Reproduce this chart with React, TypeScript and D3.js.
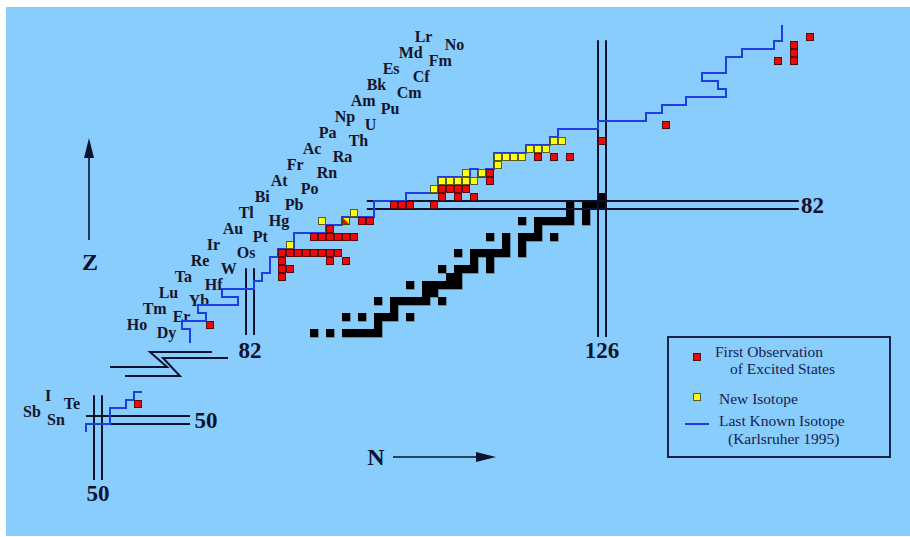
import React from 'react';
import * as d3 from 'd3';

const W = 910;
const H = 537;

// element symbols, main chart starts at Z = 66, inset at Z = 50
const mainSymbols = ['Dy','Ho','Er','Tm','Yb','Lu','Hf','Ta','W','Re','Os','Ir','Pt','Au','Hg','Tl','Pb','Bi','Po','At','Rn','Fr','Ra','Ac','Th','Pa','U','Np','Pu','Am','Cm','Bk','Cf','Es','Fm','Md','No','Lr'];
const insetSymbols = ['Sn','Sb','Te','I'];

// stable nuclides: [Z, neutron numbers]
const stableRows: [number, number[]][] = [
  [66, [90, 92, 94, 95, 96, 97, 98]],
  [67, [98]],
  [68, [94, 96, 98, 99, 100, 102]],
  [69, [100]],
  [70, [98, 100, 101, 102, 103, 104, 106]],
  [71, [104, 105]],
  [72, [102, 104, 105, 106, 107, 108]],
  [73, [107, 108]],
  [74, [106, 108, 109, 110, 112]],
  [75, [110, 112]],
  [76, [108, 110, 111, 112, 113, 114, 116]],
  [77, [114, 116]],
  [78, [112, 114, 116, 117, 118, 120]],
  [79, [118]],
  [80, [116, 118, 119, 120, 121, 122, 124]],
  [81, [122, 124]],
  [82, [122, 124, 125, 126]],
  [83, [126]],
];

// first observation of excited states
const excitedRows: [number, number[]][] = [
  [67, [77]],
  [73, [86]],
  [74, [86, 87]],
  [75, [86, 92, 94]],
  [76, [86, 87, 88, 89, 90, 91, 92, 93]],
  [78, [90, 91, 92, 93, 94, 95]],
  [79, [92]],
  [80, [96, 97]],
  [82, [100, 101, 102, 105]],
  [83, [106, 108, 110]],
  [84, [106, 107, 108, 109]],
  [85, [112]],
  [86, [112]],
  [88, [118, 120, 122]],
  [90, [126]],
  [92, [134]],
  [100, [148, 150]],
  [101, [150]],
  [102, [150]],
  [103, [152]],
];
const excitedInset: [number, number[]][] = [[52, [55]]];

// new isotopes
const newRows: [number, number[]][] = [
  [77, [87]],
  [80, [91]],
  [81, [95]],
  [84, [105]],
  [85, [106, 107, 108, 109, 110]],
  [86, [109, 111]],
  [87, [113]],
  [88, [113, 114, 115, 116]],
  [89, [117, 118, 119]],
  [90, [120, 121]],
];
// both (half red, half yellow): [Z, N]
const bothCells: [number, number][] = [[80, 94]];

// last known isotope (cell edges, [N, Z])
const lastKnownMain: [number, number][] = [
  [74.5, 64.75], [74.5, 66.5], [73.5, 66.5], [73.5, 67.5], [76.5, 67.5], [76.5, 68.5],
  [75.5, 68.5], [75.5, 69.5], [80.5, 69.5], [80.5, 70.5], [78.5, 70.5], [78.5, 71.5],
  [82.5, 71.5], [82.5, 72.5], [83.5, 72.5], [83.5, 73.5], [84.5, 73.5], [84.5, 75.5],
  [85.5, 75.5], [85.5, 76.5], [87.5, 76.5], [87.5, 78.5], [91.5, 78.5], [91.5, 79.5],
  [93.5, 79.5], [93.5, 80.5], [97.5, 80.5], [97.5, 82.5], [101.5, 82.5], [101.5, 83.5],
  [105.5, 83.5], [105.5, 85.5], [109.5, 85.5], [109.5, 86.5], [110.5, 86.5], [110.5, 85.5],
  [111.5, 85.5], [111.5, 86.5], [112.5, 86.5], [112.5, 88.5], [116.5, 88.5], [116.5, 89.5],
  [119.5, 89.5], [119.5, 90.5], [120.5, 90.5], [120.5, 91.5], [125.5, 91.5], [125.5, 92.5],
  [131.5, 92.5], [131.5, 93.5], [133.5, 93.5], [133.5, 94.5], [136.5, 94.5], [136.5, 95.5],
  [141.5, 95.5], [141.5, 96.5], [140.5, 96.5], [140.5, 97.5], [138.5, 97.5], [138.5, 98.5],
  [141.5, 98.5], [141.5, 100.5], [143.5, 100.5], [143.5, 101.5], [147.5, 101.5], [147.5, 102.5],
  [148.5, 102.5], [148.5, 104.5],
];
const lastKnownInset: [number, number][] = [
  [48.5, 48.5], [48.5, 49.5], [51.5, 49.5], [51.5, 51.5], [53.5, 51.5], [53.5, 52.5],
  [54.5, 52.5], [54.5, 53.5], [55.5, 53.5],
];

const BG = '#88cdfb';
const INK = '#0c1230';
const BLUE = '#1e3ee0';
const RED = '#ee0a0a';
const YEL = '#ffff10';

// main region scales (8px per nucleon)
const x = d3.scaleLinear().domain([82, 126]).range([250, 602]);
const y = d3.scaleLinear().domain([82, 66]).range([205, 333]);
// inset (Sn region)
const xi = d3.scaleLinear().domain([50, 55]).range([98, 138]);
const yi = d3.scaleLinear().domain([50, 53]).range([420, 396]);
// element label left edge along the diagonal
const labelX = d3.scaleLinear().domain([66, 103]).range([156.7, 452.7]);
const insetLabelX = d3.scaleLinear().domain([50, 53]).range([56, 80]);

const flat = (rows: [number, number[]][]) => rows.flatMap(([z, ns]) => ns.map((n) => [n, z]));

const Cell = ({ cx, cy, fill, stroke }: { cx: number; cy: number; fill: string; stroke: string }) => (
  <rect x={cx - 3.5} y={cy - 3.5} width={7} height={7} fill={fill} stroke={stroke} strokeWidth={1} />
);

export default function App() {
  const line = d3.line();
  const mainPath = line(lastKnownMain.map(([n, z]) => [x(n), y(z)]));
  const insetPath = line(lastKnownInset.map(([n, z]) => [xi(n), yi(z)]));
  const labelFont = { fontFamily: 'Liberation Serif, serif', fontWeight: 700 };

  return (
    <svg width={W} height={H} style={{ position: 'absolute', left: 0, top: 0, background: '#fff' }}>
      <rect x={6} y={7} width={904} height={529} fill={BG} />

      {/* element labels */}
      <g {...labelFont} fontSize={16} fill="#15152a">
        {mainSymbols.map((s, i) => {
          const z = 66 + i;
          return (
            <text key={s} x={labelX(z) - (z % 2 ? 38 : 0)} y={y(z) + 5}>{s}</text>
          );
        })}
        {insetSymbols.map((s, i) => {
          const z = 50 + i;
          return (
            <text key={s} x={insetLabelX(z) - (z % 2 ? 32 : 0)} y={yi(z) + 5} textAnchor="middle">{s}</text>
          );
        })}
      </g>

      {/* stable */}
      {flat(stableRows).map(([n, z]) => (
        <rect key={`s${n}-${z}`} x={x(n - 0.5)} y={y(z + 0.5)} width={8.3} height={8.3} fill="#000" />
      ))}

      {/* magic number lines */}
      <g stroke={INK} strokeWidth={2} fill="none">
        <line x1={x(81.5)} x2={x(81.5)} y1={y(74.1)} y2={y(65.75)} />
        <line x1={x(82.5)} x2={x(82.5)} y1={y(74.1)} y2={y(65.75)} />
        <line x1={x(125.5)} x2={x(125.5)} y1={y(102.6)} y2={y(65.5)} />
        <line x1={x(126.5)} x2={x(126.5)} y1={y(102.6)} y2={y(65.5)} />
        <line x1={x(96.6)} x2={x(150.6)} y1={y(82.5)} y2={y(82.5)} />
        <line x1={x(96.6)} x2={x(150.6)} y1={y(81.5)} y2={y(81.5)} />
        <line x1={xi(49.5)} x2={xi(49.5)} y1={yi(53.1)} y2={yi(42.5)} />
        <line x1={xi(50.5)} x2={xi(50.5)} y1={yi(53.1)} y2={yi(42.5)} />
        <line x1={xi(48.5)} x2={xi(61.5)} y1={yi(50.5)} y2={yi(50.5)} />
        <line x1={xi(48.5)} x2={xi(61.5)} y1={yi(49.5)} y2={yi(49.5)} />
        {/* axis break */}
        <polyline points="110,367 167,367 150,352 212,352" />
        <polyline points="125,376 180,376 163,358 228,358" />
      </g>

      {/* last known isotope */}
      <path d={mainPath ?? ''} fill="none" stroke={BLUE} strokeWidth={2} />
      <path d={insetPath ?? ''} fill="none" stroke={BLUE} strokeWidth={2} />

      {flat(excitedRows).map(([n, z]) => (
        <Cell key={`r${n}-${z}`} cx={x(n)} cy={y(z)} fill={RED} stroke="#5a0a0a" />
      ))}
      {flat(excitedInset).map(([n, z]) => (
        <Cell key={`ri${n}-${z}`} cx={xi(n)} cy={yi(z)} fill={RED} stroke="#5a0a0a" />
      ))}
      {flat(newRows).map(([n, z]) => (
        <Cell key={`y${n}-${z}`} cx={x(n)} cy={y(z)} fill={YEL} stroke="#5b5b1a" />
      ))}
      {bothCells.map(([z, n]) => {
        const cx = x(n), cy = y(z);
        return (
          <g key={`b${n}-${z}`}>
            <polygon points={`${cx - 3.5},${cy - 3.5} ${cx + 3.5},${cy - 3.5} ${cx + 3.5},${cy + 3.5}`} fill={YEL} />
            <polygon points={`${cx - 3.5},${cy - 3.5} ${cx - 3.5},${cy + 3.5} ${cx + 3.5},${cy + 3.5}`} fill={RED} />
            <rect x={cx - 3.5} y={cy - 3.5} width={7} height={7} fill="none" stroke="#5a3a0a" />
          </g>
        );
      })}

      {/* magic numbers */}
      <g {...labelFont} fontSize={23} fill={INK} textAnchor="middle">
        <text x={x(82)} y={y(62.9)}>82</text>
        <text x={x(126)} y={y(62.9)}>126</text>
        <text x={x(152.3)} y={y(82) + 8}>82</text>
        <text x={xi(50)} y={yi(39.9)}>50</text>
        <text x={xi(63.5)} y={yi(50) + 8}>50</text>
      </g>

      {/* axis arrows */}
      <g stroke={INK} strokeWidth={1.6}>
        <line x1={89} x2={89} y1={240} y2={152} />
        <line x1={393} x2={482} y1={457} y2={457} />
      </g>
      <polygon points="89,138 84,158 94,158" fill={INK} />
      <polygon points="496,457 476,452 476,462" fill={INK} />
      <g {...labelFont} fontSize={24} fill={INK} textAnchor="middle">
        <text x={90} y={270}>Z</text>
        <text x={376} y={465}>N</text>
      </g>

      {/* legend */}
      <rect x={668} y={337} width={222} height={120} fill="none" stroke="#1a2248" strokeWidth={2} />
      <rect x={693.5} y={353.5} width={7} height={7} fill={RED} stroke="#5a0a0a" />
      <rect x={693.5} y={393.5} width={7} height={7} fill={YEL} stroke="#5b5b1a" />
      <line x1={685} x2={709} y1={424} y2={424} stroke={BLUE} strokeWidth={2} />
      <g fontFamily="Liberation Serif, serif" fontSize={15.5} fill="#1a2050">
        <text x={715} y={356.5}>First Observation</text>
        <text x={730} y={374}>of Excited States</text>
        <text x={719} y={404}>New Isotope</text>
        <text x={719} y={426}>Last Known Isotope</text>
        <text x={728} y={443.5}>(Karlsruher 1995)</text>
      </g>
    </svg>
  );
}
